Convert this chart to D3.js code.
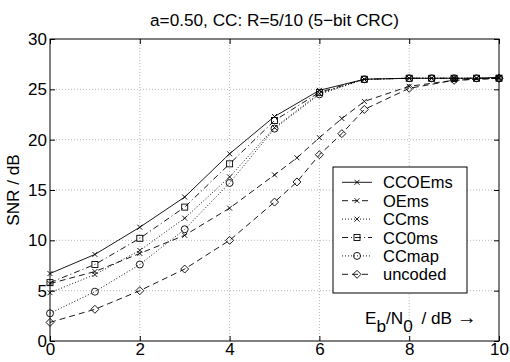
<!DOCTYPE html>
<html>
<head>
<meta charset="utf-8">
<script src="https://cdn.jsdelivr.net/npm/d3@7"></script>
<style>
  body { margin: 0; background: #fff; }
  svg { display: block; font-family: "Liberation Sans", Arial, sans-serif; }
</style>
</head>
<body>
<div id="chart"></div>
<script>
// x positions
const xCoded = [0, 1, 2, 3, 4, 5, 6, 7, 8, 8.5, 9, 9.5, 10];
const xUncoded = [0, 1, 2, 3, 4, 5, 5.5, 6, 6.5, 7, 8, 9, 10];

// SNR values (dB)
const ccoems = [6.7, 8.6, 11.3, 14.3, 18.6, 22.3, 24.9, 26.0, 26.1, 26.1, 26.1, 26.1, 26.2];
const oems = [5.7, 6.9, 8.7, 10.5, 13.2, 16.5, 18.2, 20.2, 22.1, 23.8, 25.3, 25.9, 26.1];
const ccms = [4.8, 6.6, 9.0, 12.2, 16.3, 21.2, 24.6, 26.0, 26.1, 26.1, 26.1, 26.1, 26.1];
const cc0ms = [5.8, 7.6, 10.2, 13.3, 17.6, 21.9, 24.7, 26.0, 26.1, 26.1, 26.1, 26.1, 26.1];
const ccmap = [2.75, 4.9, 7.6, 11.1, 15.7, 21.1, 24.5, 26.0, 26.1, 26.1, 26.1, 26.1, 26.1];
const uncoded = [1.85, 3.15, 5.0, 7.15, 10.0, 13.8, 15.8, 18.5, 20.6, 23.0, 25.1, 25.9, 26.1];

const xTicks = [0, 2, 4, 6, 8, 10];
const yTicks = [0, 5, 10, 15, 20, 25, 30];

const series = [
  { name: "CCOEms", x: xCoded, y: ccoems, dash: null, marker: "x" },
  { name: "OEms", x: xUncoded, y: oems, dash: "6,4", marker: "x" },
  { name: "CCms", x: xCoded, y: ccms, dash: "1,2", marker: "x" },
  { name: "CC0ms", x: xCoded, y: cc0ms, dash: "6,3,1,3", marker: "square" },
  { name: "CCmap", x: xCoded, y: ccmap, dash: "1,2", marker: "circle" },
  { name: "uncoded", x: xUncoded, y: uncoded, dash: "6,4", marker: "diamond" }
];

const W = 510, H = 362;
const margin = { top: 39, right: 11, bottom: 21, left: 50 };
const width = W - margin.left - margin.right;
const height = H - margin.top - margin.bottom;

const svg = d3.select("#chart").append("svg")
  .attr("width", W)
  .attr("height", H);

const g = svg.append("g")
  .attr("transform", `translate(${margin.left},${margin.top})`);

const x = d3.scaleLinear().domain([0, 10]).range([0, width]);
const y = d3.scaleLinear().domain([0, 30]).range([height, 0]);

// grid
g.selectAll(".gx").data(xTicks.slice(1, -1)).enter().append("line")
  .attr("x1", d => x(d)).attr("x2", d => x(d))
  .attr("y1", 0).attr("y2", height)
  .attr("stroke", "#a8a8a8").attr("stroke-width", 0.8)
  .attr("stroke-dasharray", "1,2");
g.selectAll(".gy").data(yTicks.slice(1, -1)).enter().append("line")
  .attr("y1", d => y(d)).attr("y2", d => y(d))
  .attr("x1", 0).attr("x2", width)
  .attr("stroke", "#a8a8a8").attr("stroke-width", 0.8)
  .attr("stroke-dasharray", "1,2");

// axes with inward ticks
const xAxis = g.append("g").attr("transform", `translate(0,${height})`)
  .call(d3.axisBottom(x).tickValues(xTicks).tickSizeInner(-5).tickSizeOuter(0).tickPadding(2));
const xAxisTop = g.append("g")
  .call(d3.axisTop(x).tickValues(xTicks).tickSizeInner(-5).tickSizeOuter(0).tickFormat(""));
const yAxis = g.append("g")
  .call(d3.axisLeft(y).tickValues(yTicks).tickSizeInner(-5).tickSizeOuter(0).tickPadding(3));
const yAxisRight = g.append("g").attr("transform", `translate(${width},0)`)
  .call(d3.axisRight(y).tickValues(yTicks).tickSizeInner(-5).tickSizeOuter(0).tickFormat(""));

[xAxis, xAxisTop, yAxis, yAxisRight].forEach(a => {
  a.select(".domain").remove();
  a.selectAll("line").attr("stroke", "#000");
  a.selectAll("text").attr("font-size", 17).attr("fill", "#000")
    .attr("font-family", "Liberation Sans, Arial, sans-serif");
});

g.append("rect")
  .attr("width", width).attr("height", height)
  .attr("fill", "none").attr("stroke", "#000").attr("stroke-width", 1);

// lines
const line = d3.line().x(d => x(d[0])).y(d => y(d[1]));

function drawMarker(sel, type, cx, cy) {
  if (type === "x") {
    const s = 2.5;
    sel.append("path")
      .attr("d", `M${cx - s},${cy - s}L${cx + s},${cy + s}M${cx - s},${cy + s}L${cx + s},${cy - s}`)
      .attr("stroke", "#000").attr("stroke-width", 0.9).attr("fill", "none");
  } else if (type === "square") {
    sel.append("rect")
      .attr("x", cx - 3).attr("y", cy - 3).attr("width", 6).attr("height", 6)
      .attr("stroke", "#000").attr("stroke-width", 0.9).attr("fill", "none");
  } else if (type === "circle") {
    sel.append("circle")
      .attr("cx", cx).attr("cy", cy).attr("r", 3.5)
      .attr("stroke", "#000").attr("stroke-width", 0.9).attr("fill", "none");
  } else if (type === "diamond") {
    const s = 4;
    sel.append("path")
      .attr("d", `M${cx},${cy - s}L${cx + s},${cy}L${cx},${cy + s}L${cx - s},${cy}Z`)
      .attr("stroke", "#000").attr("stroke-width", 0.9).attr("fill", "none");
  }
}

series.forEach(s => {
  const pts = s.x.map((v, i) => [v, s.y[i]]);
  g.append("path")
    .datum(pts)
    .attr("d", line)
    .attr("fill", "none")
    .attr("stroke", "#000")
    .attr("stroke-width", 0.9)
    .attr("stroke-dasharray", s.dash);
  const mg = g.append("g");
  pts.forEach(p => drawMarker(mg, s.marker, x(p[0]), y(p[1])));
});

// title
svg.append("text")
  .attr("x", margin.left + width / 2)
  .attr("y", 26)
  .attr("text-anchor", "middle")
  .attr("font-size", 17.2)
  .text("a=0.50, CC: R=5/10 (5\u2212bit CRC)");

// y label
svg.append("text")
  .attr("transform", `translate(19,${margin.top + height / 2}) rotate(-90)`)
  .attr("text-anchor", "middle")
  .attr("font-size", 17.2)
  .text("SNR / dB");

// x label inside the plot
const xl = svg.append("text")
  .attr("x", 365)
  .attr("y", 324)
  .attr("font-size", 17.2);
xl.append("tspan").text("E");
xl.append("tspan").attr("dy", 8).text("b");
xl.append("tspan").attr("dy", -8).text("/N");
xl.append("tspan").attr("dy", 8).text("0");
xl.append("tspan").attr("dy", -8).text("\u2002/ dB ");
xl.append("tspan").attr("font-size", 20).text("\u2192");

// legend
const leg = svg.append("g");
leg.append("rect")
  .attr("x", 333).attr("y", 167)
  .attr("width", 134).attr("height", 126)
  .attr("fill", "#fff").attr("stroke", "#000").attr("stroke-width", 1);

series.forEach((s, i) => {
  const cy = 182.3 + i * 18.4;
  leg.append("line")
    .attr("x1", 342).attr("x2", 372)
    .attr("y1", cy).attr("y2", cy)
    .attr("stroke", "#000").attr("stroke-width", 0.9)
    .attr("stroke-dasharray", s.dash);
  drawMarker(leg, s.marker, 357, cy);
  leg.append("text")
    .attr("x", 383).attr("y", cy + 6)
    .attr("font-size", 16.5)
    .text(s.name);
});
</script>
</body>
</html>
